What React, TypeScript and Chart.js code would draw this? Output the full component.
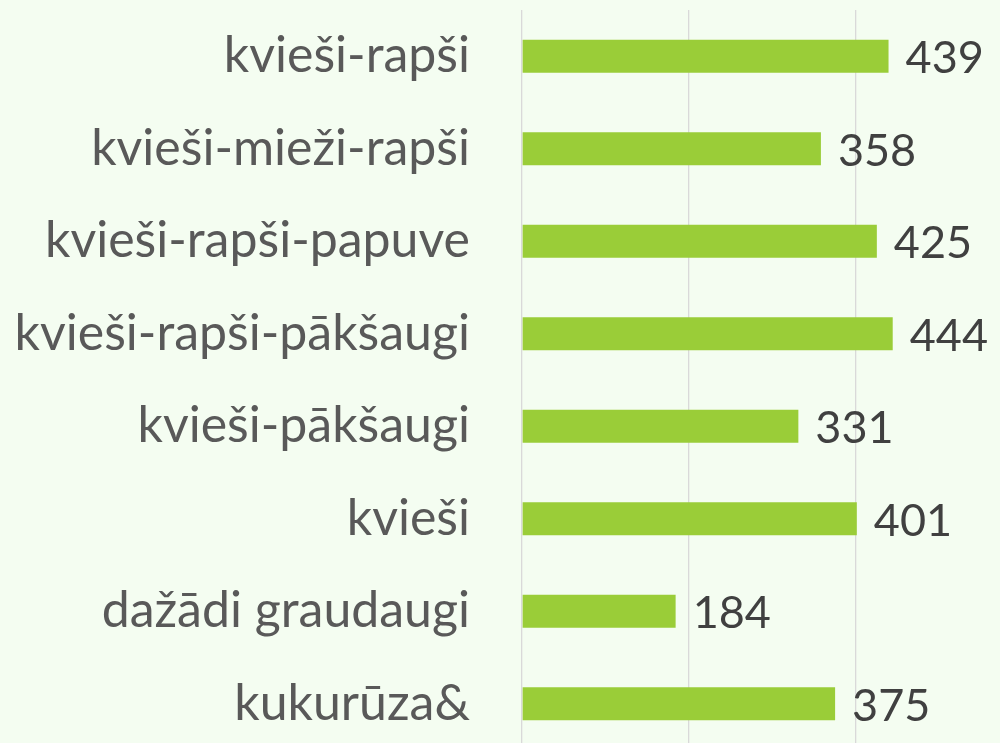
import React, { useEffect, useRef } from "react";
import { Chart, registerables } from "chart.js";

Chart.register(...registerables);

const categories = [
  "kvieši-rapši",
  "kvieši-mieži-rapši",
  "kvieši-rapši-papuve",
  "kvieši-rapši-pākšaugi",
  "kvieši-pākšaugi",
  "kvieši",
  "dažādi graudaugi",
  "kukurūza&",
];
const values = [439, 358, 425, 444, 331, 401, 184, 375];
const gridTicks = [0, 200, 400];

const BG = "#F4FDF1";
const BAR = "#9ACD38";
const FONT = "Lato, 'Open Sans', sans-serif";

const valueLabels = {
  id: "valueLabels",
  afterDatasetsDraw(chart: any) {
    const ctx = chart.ctx;
    const meta = chart.getDatasetMeta(0);
    ctx.save();
    ctx.font = `45px ${FONT}`;
    ctx.fillStyle = "#404040";
    ctx.textAlign = "left";
    ctx.textBaseline = "alphabetic";
    meta.data.forEach((bar: any, i: number) => {
      ctx.fillText(String(values[i]), bar.x + 17, bar.y + 17);
    });
    ctx.restore();
  },
};

const bgPlugin = {
  id: "bgFill",
  beforeDraw(chart: any) {
    const ctx = chart.ctx;
    ctx.save();
    ctx.fillStyle = BG;
    ctx.fillRect(0, 0, chart.width, chart.height);
    ctx.restore();
  },
};

export default function App() {
  const ref = useRef<HTMLCanvasElement>(null);
  useEffect(() => {
    if (!ref.current) return;
    const chart = new Chart(ref.current, {
      type: "bar",
      data: {
        labels: categories,
        datasets: [
          {
            data: values,
            backgroundColor: BAR,
            borderWidth: 0,
            categoryPercentage: 1,
            barPercentage: 0.357,
          },
        ],
      },
      options: {
        indexAxis: "y",
        animation: false,
        responsive: false,
        maintainAspectRatio: false,
        layout: { padding: { top: 10, bottom: 10, left: 0, right: 0 } },
        plugins: {
          legend: { display: false },
          tooltip: { enabled: false },
        },
        scales: {
          x: {
            min: 0,
            max: 572.5,
            border: { display: false },
            grid: { color: "#D9D9D9", lineWidth: 1.3, drawTicks: false },
            ticks: { display: false },
            afterBuildTicks: (scale: any) => {
              scale.ticks = gridTicks.map((v) => ({ value: v }));
            },
            afterFit: (scale: any) => {
              scale.height = 0;
              scale.paddingLeft = 0;
              scale.paddingRight = 0;
            },
          },
          y: {
            border: { display: false },
            grid: { display: false, drawTicks: false },
            ticks: {
              color: "#595959",
              font: { family: FONT, size: 50 },
              padding: 52,
              autoSkip: false,
            },
            afterFit: (scale: any) => {
              scale.width = 522;
              scale.paddingTop = 0;
              scale.paddingBottom = 0;
            },
          },
        },
      },
      plugins: [bgPlugin, valueLabels],
    });
    return () => chart.destroy();
  }, []);
  return (
    <div
      style={{
        position: "fixed",
        left: 0,
        top: 0,
        width: 1000,
        height: 743,
        overflow: "hidden",
        background: BG,
      }}
    >
      <canvas ref={ref} width={1000} height={760} style={{ display: "block" }} />
    </div>
  );
}
